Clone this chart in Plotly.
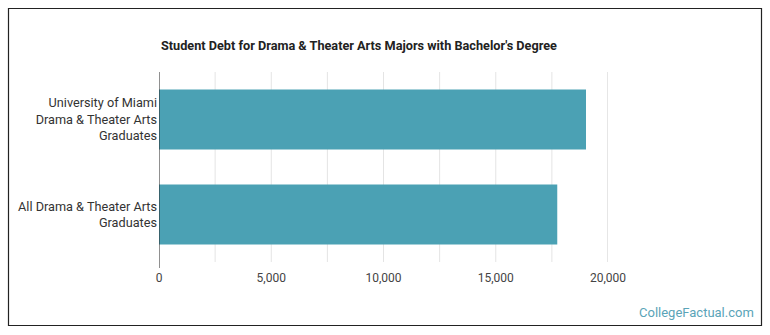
import plotly.graph_objects as go

categories = ["University of Miami<br>Drama & Theater Arts<br>Graduates",
              "All Drama & Theater Arts<br>Graduates"]
debt = [19020, 17740]
tick_vals = [0, 5000, 10000, 15000, 20000]
tick_text = ["0", "5,000", "10,000", "15,000", "20,000"]
minor_grid = [2500, 5000, 7500, 10000, 12500, 15000, 17500]

W, H = 770, 335
L, R, T, B = 159, 162, 72, 73
pw, ph = W - L - R, H - T - B

def px(x):
    return (x - L) / pw

def py(y):
    return (H - B - y) / ph

fig = go.Figure()
fig.add_trace(go.Bar(
    x=debt, y=categories, orientation="h",
    marker=dict(color="#4ba1b4", line=dict(width=0)),
    hoverinfo="x+y",
))

shapes = []
for g in minor_grid:
    shapes.append(dict(type="line", xref="x", yref="paper", x0=g, x1=g, y0=0, y1=1,
                       line=dict(color="#e4e4e4", width=1), layer="below"))
shapes.append(dict(type="line", xref="x", yref="paper", x0=20000, x1=20000, y0=0, y1=1,
                   line=dict(color="#cccccc", width=1), layer="below"))
# y axis line
shapes.append(dict(type="line", xref="x", yref="paper", x0=0, x1=0, y0=py(268), y1=1,
                   line=dict(color="#222222", width=1)))
# outer border
shapes.append(dict(type="rect", xref="paper", yref="paper",
                   x0=px(8.5), x1=px(761.5), y0=py(325.5), y1=py(8.5),
                   line=dict(color="#222222", width=1.2), fillcolor="rgba(0,0,0,0)"))

fig.update_layout(
    width=W, height=H,
    margin=dict(l=L, r=R, t=T, b=B),
    paper_bgcolor="white", plot_bgcolor="white",
    font=dict(family="Roboto, sans-serif", size=13, color="#333333"),
    showlegend=False,
    bargap=0.37,
    shapes=shapes,
    xaxis=dict(range=[0, 20000], tickvals=tick_vals, ticktext=tick_text,
               showgrid=False, zeroline=False, showline=False, ticks="",
               ticklabelstandoff=7,
               tickfont=dict(size=12, color="#444444"), fixedrange=True),
    yaxis=dict(categoryorder="array", categoryarray=categories, autorange="reversed",
               showgrid=False, zeroline=False, showline=False, ticks="",
               ticklabelstandoff=1,
               tickfont=dict(size=12.7, color="#333333"), fixedrange=True),
    annotations=[
        dict(text="<b>Student Debt for Drama & Theater Arts Majors with Bachelor's Degree</b>",
             xref="paper", yref="paper", x=px(159), y=py(45), xanchor="left", yanchor="middle",
             showarrow=False, font=dict(size=12.7, color="#222222", family="Roboto, sans-serif")),
        dict(text="CollegeFactual.com", xref="paper", yref="paper",
             x=px(756), y=py(312), xanchor="right", yanchor="middle", showarrow=False,
             font=dict(size=13, color="#5aa4b8", family="Roboto, sans-serif")),
    ],
)

fig.write_html("out.html")
